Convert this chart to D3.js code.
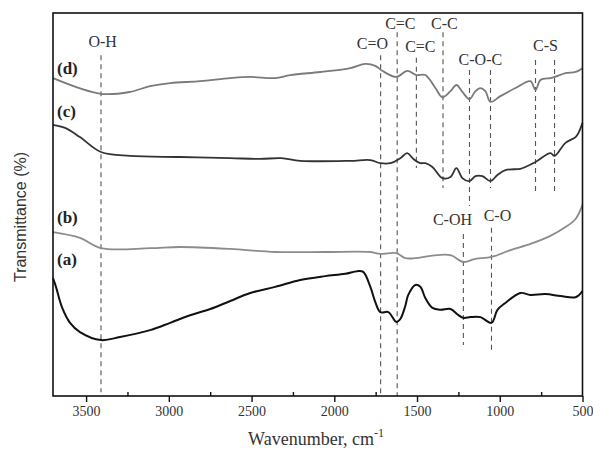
<!DOCTYPE html>
<html><head><meta charset="utf-8">
<script src="https://cdn.jsdelivr.net/npm/d3@7"></script>
<style>body{margin:0;background:#fff}</style>
</head><body>
<svg id="chart" width="593" height="452"></svg>
<script>
// ---- data ----
const wnA = [3700,3682,3646,3597,3537,3410,3295,3113,2992,2871,2750,2629,2508,2357,2206,2055,1934,1861,1825,1782,1752,1722,1673,1625,1601,1571,1553,1510,1480,1450,1407,1359,1298,1250,1220,1177,1117,1050,1014,966,875,815,724,633,542,500];
const tA  = [30.8,28.5,23.2,19.1,16.7,14.6,15.4,17.2,19.1,21.1,22.7,24.8,26.9,28.5,30.3,31.3,31.9,32.6,32.4,28.5,24.5,21.9,21.9,19.3,20.1,23.5,26.4,29.0,28.5,25.6,23.0,22.5,22.7,21.1,20.4,20.6,20.6,19.1,22.5,24.3,26.9,26.4,26.6,26.1,25.8,27.4];

const wnB = [3700,3537,3410,3113,2932,2629,2357,2055,1782,1722,1625,1571,1510,1419,1298,1220,1147,1050,935,815,694,603,542,500];
const tB  = [42.8,41.3,38.6,38.6,38.9,38.4,37.6,37.6,37.6,37.1,37.3,36.0,36.0,36.6,36.8,35.0,35.8,36.3,38.1,39.7,41.8,44.1,46.2,49.9];

const wnC = [3700,3627,3537,3410,3234,2932,2629,2448,2320,2206,1903,1782,1722,1661,1601,1559,1522,1480,1450,1407,1347,1298,1262,1226,1183,1147,1105,1056,1014,966,875,845,784,694,669,603,542,524,500];
const tC  = [70.8,70.0,67.6,63.7,62.7,62.4,62.1,61.9,62.1,61.4,61.4,61.6,60.8,60.8,62.1,63.4,61.9,60.8,60.8,59.8,56.9,57.2,59.5,56.9,56.1,57.4,57.4,56.1,57.7,59.0,59.3,59.8,61.1,63.4,62.7,66.1,67.6,68.7,71.3];

const wnD = [3700,3410,3234,3113,2992,2811,2629,2508,2357,2266,2085,1903,1813,1752,1710,1625,1559,1504,1450,1389,1347,1298,1262,1226,1183,1147,1117,1087,1056,996,905,815,784,754,694,669,603,542,500];
const tD  = [83.0,78.9,79.4,80.9,81.7,82.2,83.0,83.3,83.0,83.8,84.6,85.6,86.7,86.2,84.9,83.3,84.9,83.8,83.8,80.4,78.0,79.6,81.2,79.4,77.5,79.6,80.4,79.6,76.8,78.3,80.4,82.2,79.9,82.5,83.0,83.3,84.3,84.6,85.6];

const seriesNames = ["(a)","(b)","(c)","(d)"];
const xTicks = [3500,3000,2500,2000,1500,1000,500];
const xMinorTicks = [3250,2750,2250,1750,1250,750];

// band markers: wavenumber, dashed extent (transmittance units)
const markerWn   = [3410,1720,1620,1504,1343,1183,1056,784,669,1220,1050];
const markerTop  = [89.0,89.0,95.0,88.3,95.0,85.1,85.1,87.7,87.7,42.3,43.9];
const markerBot  = [1.0,0.0,0.0,59.5,54.3,49.6,54.3,52.5,52.5,13.3,11.2];
// band labels: text, wavenumber of centre, baseline (transmittance units)
const labelText = ["O-H","C=O","C=C","C=C","C-C","C-O-C","C-S","C-OH","C-O"];
const labelWn   = [3400,1770,1601,1480,1335,1117,724,1286,1014];
const labelY    = [91.1,90.6,95.8,89.8,95.8,86.4,90.1,44.6,45.7];

// ---- chart ----
const svg = d3.select("#chart");
const L = 53, R = 582.5, T = 13, B = 396;
const x = d3.scaleLinear().domain([3700,500]).range([L,R]);
const y = d3.scaleLinear().domain([0,100]).range([B,T]);

const serif = "'Liberation Serif','Times New Roman',serif";

const styles = [
  {wn:wnA, t:tA, color:"#111", w:2.0, labY:34.2},
  {wn:wnB, t:tB, color:"#8c8c8c", w:1.8, labY:45.2},
  {wn:wnC, t:tC, color:"#333", w:1.8, labY:72.8},
  {wn:wnD, t:tD, color:"#7a7a7a", w:1.8, labY:84.0}
];

// dashed markers
markerWn.forEach((w,i)=>{
  svg.append("line")
    .attr("x1",x(w)).attr("x2",x(w))
    .attr("y1",y(markerTop[i])).attr("y2",y(markerBot[i]))
    .attr("stroke","#555").attr("stroke-width",1.1)
    .attr("stroke-dasharray","5,4");
});

// curves
const line = d3.line().curve(d3.curveCatmullRom.alpha(0.5));
styles.forEach((s,i)=>{
  const pts = s.wn.map((w,j)=>[x(w), y(s.t[j])]);
  svg.append("path").attr("d",line(pts))
    .attr("fill","none").attr("stroke",s.color)
    .attr("stroke-width",s.w).attr("stroke-linejoin","round");
  svg.append("text").attr("x",57).attr("y",y(s.labY))
    .attr("font-family",serif).attr("font-weight","bold")
    .attr("font-size",17).attr("fill","#222").text(seriesNames[i]);
});

// band labels
labelText.forEach((t,i)=>{
  svg.append("text").attr("x",x(labelWn[i])).attr("y",y(labelY[i]))
    .attr("text-anchor","middle").attr("font-family",serif)
    .attr("font-size",16).attr("fill","#333").text(t);
});

// frame
svg.append("rect").attr("x",L).attr("y",T).attr("width",R-L).attr("height",B-T)
  .attr("fill","none").attr("stroke","#111").attr("stroke-width",1.6);

// x axis
const ax = svg.append("g").attr("transform",`translate(0,${B})`)
  .call(d3.axisBottom(x).tickValues(xTicks).tickSize(6).tickFormat(d3.format("d")).tickPadding(4));
ax.select(".domain").remove();
ax.selectAll("line").attr("stroke","#111").attr("stroke-width",1.4);
ax.selectAll("text").attr("font-family",serif).attr("font-size",14).attr("fill","#333");
svg.append("g").attr("transform",`translate(0,${B})`)
  .call(d3.axisTop(x).tickValues(xMinorTicks).tickSize(4).tickFormat(""))
  .call(g=>g.select(".domain").remove())
  .selectAll("line").attr("stroke","#111").attr("stroke-width",1.4);

// titles
const xt = svg.append("text").attr("x",316).attr("y",445).attr("text-anchor","middle")
  .attr("font-family",serif).attr("font-size",18).attr("fill","#333");
xt.append("tspan").text("Wavenumber, cm");
xt.append("tspan").attr("dy",-8).attr("font-size",12).text("-1");

svg.append("text").attr("transform","translate(26,217) rotate(-90)")
  .attr("text-anchor","middle").attr("font-family","'Liberation Sans',Arial,sans-serif")
  .attr("font-size",16).attr("fill","#333").text("Transmittance (%)");
</script>
</body></html>
